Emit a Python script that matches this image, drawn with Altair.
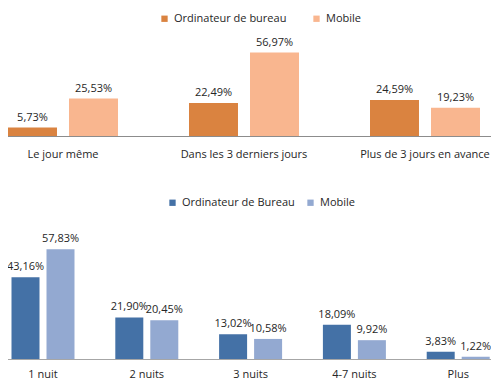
import altair as alt
import pandas as pd

# ---- data ----
top_categories = ["Le jour même", "Dans les 3 derniers jours", "Plus de 3 jours en avance"]
top_series = ["Ordinateur de bureau", "Mobile"]
top_desktop = [5.73, 22.49, 24.59]
top_mobile = [25.53, 56.97, 19.23]
top_colors = ["#DA8340", "#F9B68F"]

bottom_categories = ["1 nuit", "2 nuits", "3 nuits", "4-7 nuits", "Plus"]
bottom_series = ["Ordinateur de Bureau", "Mobile"]
bottom_desktop = [43.16, 21.90, 13.02, 18.09, 3.83]
bottom_mobile = [57.83, 20.45, 10.58, 9.92, 1.22]
bottom_colors = ["#4471A6", "#93A9D1"]

FONT = "Open Sans"
TEXT = "#262626"
W = 544


def fr(v):
    return f"{v:.2f}".replace(".", ",") + "%"


def build(cats, series, desk, mob):
    rows = []
    for c, d, m in zip(cats, desk, mob):
        rows.append({"cat": c, "serie": series[0], "val": d, "label": fr(d)})
        rows.append({"cat": c, "serie": series[1], "val": m, "label": fr(m)})
    return pd.DataFrame(rows)


def panel(cats, series, desk, mob, colors, xrange, pin, pout, height, ymax,
          legx, legy, colpad, labpad, axcolor, dy):
    df = build(cats, series, desk, mob)
    base = alt.Chart(df).encode(
        x=alt.X("cat:N", sort=cats,
                scale=alt.Scale(range=xrange, paddingInner=0, paddingOuter=0),
                axis=alt.Axis(title=None, domain=True, domainColor=axcolor, domainWidth=1,
                              ticks=False, labelAngle=0,
                              labelPadding=labpad, labelFont=FONT, labelFontSize=11,
                              labelColor=TEXT, labelBaseline="top")),
        xOffset=alt.XOffset("serie:N", sort=series,
                            scale=alt.Scale(paddingInner=pin, paddingOuter=pout)),
        y=alt.Y("val:Q", scale=alt.Scale(domain=[0, ymax], nice=False, zero=True),
                axis=None),
    )
    bars = base.mark_bar().encode(
        color=alt.Color("serie:N", sort=series,
                        scale=alt.Scale(domain=series, range=colors),
                        legend=alt.Legend(title=None, orient="none", legendX=legx,
                                          legendY=legy, direction="horizontal",
                                          symbolType="square", symbolSize=40,
                                          symbolStrokeWidth=0, labelFont=FONT,
                                          labelFontSize=11, labelColor=TEXT,
                                          columnPadding=colpad, labelOffset=4,
                                          padding=0))
    )
    labels = base.mark_text(font=FONT, fontSize=11, color=TEXT,
                            baseline="alphabetic", dy=dy).encode(text="label:N")
    return alt.layer(bars, labels).properties(width=W, height=height)


top = panel(top_categories, top_series, top_desktop, top_mobile, top_colors,
            [0.5, 543.5], 0.197, 0.582, 128, 87.4, 187, 5, 24, 12, "#8C8C8C", -7)
bottom = panel(bottom_categories, bottom_series, bottom_desktop, bottom_mobile, bottom_colors,
               [19.1, 538.1], 0.2, 0.583, 169, 89.1, 195, 7, 10, 9, "#A6A6A6", -7)

chart = alt.vconcat(top, bottom, spacing=54, bounds="flush").resolve_scale(
    x="independent", y="independent", color="independent", xOffset="independent"
).properties(
    padding={"left": -36, "right": -25, "top": 0, "bottom": 0}
).configure(font=FONT).configure_view(stroke=None)

chart.save("out.html", embed_options={"renderer": "svg", "actions": False})
